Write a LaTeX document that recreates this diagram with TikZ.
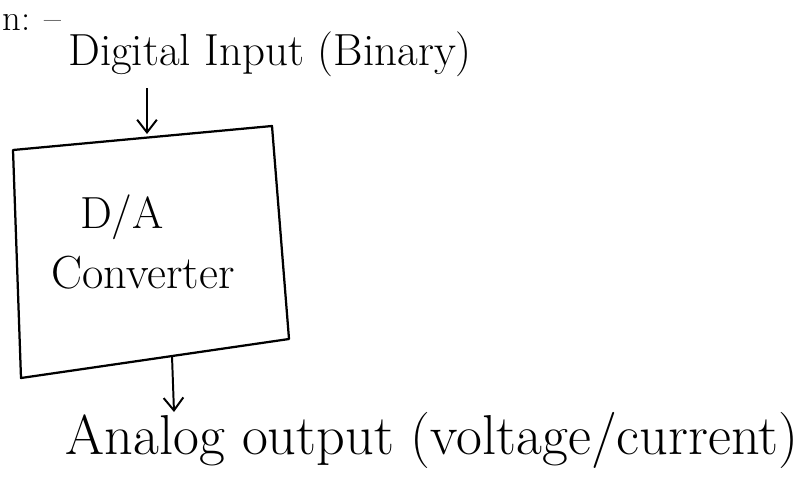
\documentclass[tikz,border=0pt]{standalone}
\usetikzlibrary{arrows.meta}

\begin{document}
\begin{tikzpicture}[x=0.025cm,y=-0.025cm]
		\tikzstyle{hand}=[inner sep=0pt,font=\fontsize{30}{36}\selectfont]
		\tikzstyle{box}=[draw,line width=1.6pt,line join=round]
		\tikzstyle{arrow}=[draw,line width=1.4pt,-{Straight Barb[length=9pt,width=14pt]}]
		\useasboundingbox (0,0) rectangle (809,502);
		
		\node[hand,font=\fontsize{26}{30}\selectfont] (head) at (32,22){n: --};
		\node[hand,font=\fontsize{32}{38}\selectfont] (din) at (270,54){Digital Input (Binary)};
		
		% the converter block, drawn by hand so a little skewed
		\coordinate (tl) at (13,150);
		\coordinate (tr) at (272,126);
		\coordinate (br) at (289,339);
		\coordinate (bl) at (21,378);
		\path[box] (tl) -- (tr) -- (br) -- (bl) -- cycle;
		\node[hand,font=\fontsize{32}{38}\selectfont] (da) at (122,217){D/A};
		\node[hand,font=\fontsize{33}{38}\selectfont] (conv) at (143,273){Converter};
		
		\node[hand,font=\fontsize{40}{46}\selectfont] (aout) at (432,440){Analog output (voltage/current)};
		
		\coordinate (inTop) at (147,88);
		\coordinate (inEnd) at (147,134);
		\coordinate (outTop) at (172,356);
		\coordinate (outEnd) at (174,412);
		\path[arrow] (inTop) -- (inEnd);
		\path[arrow] (outTop) -- (outEnd);
		
\end{tikzpicture}
\end{document}
